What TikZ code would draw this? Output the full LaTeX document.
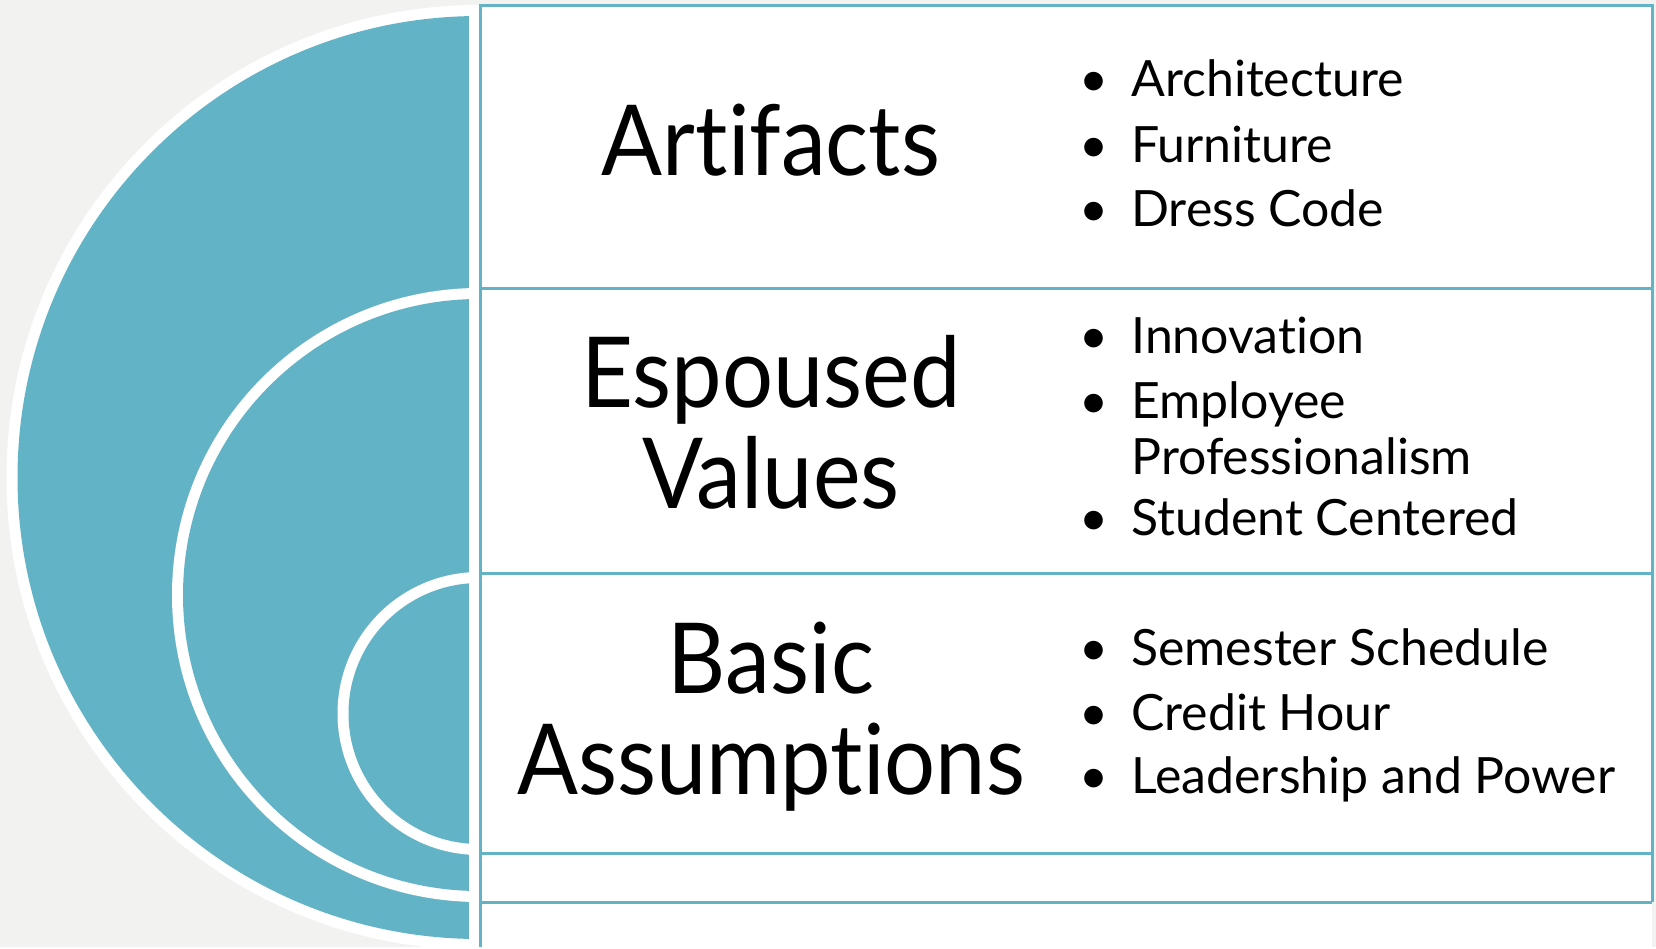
\documentclass[tikz,border=0pt]{standalone}
\usepackage{fontspec}
\setmainfont{Lato}[Ligatures=NoCommon]
\newfontfamily\headfont{Lato}[Ligatures=NoCommon, FakeStretch=0.92]
\definecolor{ringteal}{HTML}{63B3C7}
\definecolor{pagegray}{HTML}{F2F2F0}
\newcommand{\titlefont}{\headfont\fontsize{49}{50.5}\selectfont}
\newcommand{\itemfont}{\fontsize{25}{28}\selectfont}
\newcommand{\bul}{\makebox[28pt][l]{\hspace{2pt}\textbullet}}

\begin{document}
\begin{tikzpicture}[x=0.5pt,y=-0.5pt,
    heading/.style={font=\titlefont, align=center, inner sep=0pt, anchor=base},
    point/.style={font=\itemfont, align=left, inner sep=0pt, anchor=base west},
    rowline/.style={draw=ringteal, line width=1.5pt}]
    \fill[pagegray] (0,0) rectangle (1656,947);
    % nested half circles
    \begin{scope}
        \clip (0,0) rectangle (480,947);
        \foreach \cy/\r in {477.5/472.5, 595/307, 713.5/141.5} {
            \fill[white] (479,\cy) circle[radius=\r];
            \fill[ringteal] (479,\cy) circle[radius=\r-11];
        }
    \end{scope}
    \fill[white] (469,5) rectangle (480,947);
    % table rows
    \fill[white] (480,5) rectangle (1652,947);
    \draw[rowline] (480,947) -- (480,5) -- (1652,5) -- (1652,902);
    \foreach \y in {288,573,853,902}
        \draw[rowline] (480,\y) -- (1652,\y);
    % headings (multi-line nodes sit on their last baseline)
    \node[heading] (artifacts) at (771,175) {Artifacts};
    \node[heading] (espoused) at (771,508) {Espoused\\Values};
    \node[heading] (basic) at (771,794) {Basic\\Assumptions};
    % bullet points
    \node[point] (arch) at (1075,96) {\bul Architecture};
    \node[point] (furn) at (1075,162) {\bul Furniture};
    \node[point] (dress) at (1075,226) {\bul Dress Code};
    \node[point] (innov) at (1075,353) {\bul Innovation};
    \node[point] (employ) at (1075,474) {\bul Employee\\\hspace*{28pt}Professionalism};
    \node[point] (student) at (1075,535) {\bul Student Centered};
    \node[point] (sem) at (1075,665) {\bul Semester Schedule};
    \node[point] (credit) at (1075,730) {\bul Credit Hour};
    \node[point] (lead) at (1075,793) {\bul Leadership and Power};
\end{tikzpicture}
\end{document}
